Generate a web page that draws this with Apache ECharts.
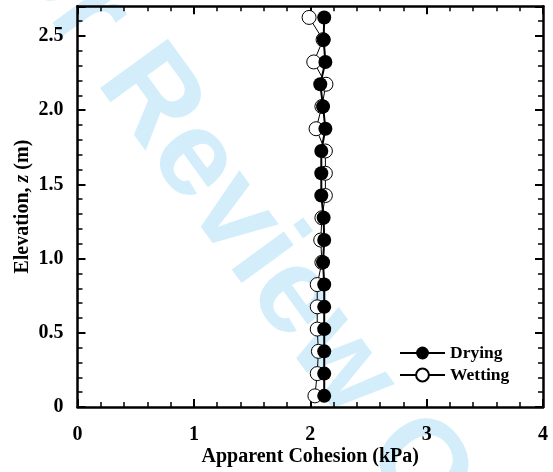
<!DOCTYPE html>
<html>
<head>
<meta charset="utf-8">
<script src="https://cdn.jsdelivr.net/npm/echarts@6/dist/echarts.min.js"></script>
<style>
  html, body { margin: 0; padding: 0; background: #fff; }
  #chart { width: 553px; height: 472px; }
</style>
</head>
<body>
<div id="chart"></div>
<script>
// Elevation of each measurement point (m)
const elevation = [0.075, 0.225, 0.375, 0.525, 0.675, 0.825, 0.975, 1.125, 1.275,
                   1.425, 1.575, 1.725, 1.875, 2.025, 2.175, 2.325, 2.475, 2.625];
// Apparent cohesion along the drying path (kPa)
const dryingCohesion = [2.12, 2.12, 2.12, 2.12, 2.12, 2.12, 2.11, 2.12, 2.115,
                        2.095, 2.095, 2.095, 2.13, 2.11, 2.086, 2.13, 2.115, 2.12];
// Apparent cohesion along the wetting path (kPa)
const wettingCohesion = [2.04, 2.06, 2.07, 2.06, 2.06, 2.06, 2.10, 2.09, 2.10,
                         2.13, 2.13, 2.13, 2.05, 2.10, 2.135, 2.03, 2.11, 1.99];
const xTicks = ['0', '1', '2', '3', '4'];
const seriesNames = ['Drying', 'Wetting'];

const serif = '"Liberation Serif", "Times New Roman", serif';

function pairs(xs) {
  return xs.map((x, i) => [x, elevation[i]]);
}

const tickCommon = {
  axisLine: { show: true, onZero: false, lineStyle: { color: '#000', width: 2.5 } },
  axisTick: { show: true, inside: true, length: 8, lineStyle: { color: '#000', width: 2 } },
  minorTick: { show: true, splitNumber: 5, length: 5, lineStyle: { color: '#000', width: 1.5 } },
  splitLine: { show: false },
  minorSplitLine: { show: false }
};

const chart = echarts.init(document.getElementById('chart'), null, { renderer: 'canvas' });

chart.setOption({
  animation: false,
  backgroundColor: '#fff',
  graphic: [{
    type: 'text',
    x: 268,
    y: 262,
    rotation: -54 * Math.PI / 180,
    z: -100,
    silent: true,
    style: {
      text: 'For Review Only',
      font: 'bold 122px "Liberation Sans", Arial, sans-serif',
      fill: '#d3eefa',
      align: 'center',
      verticalAlign: 'middle'
    }
  }],
  grid: { left: 77.5, right: 10, top: 6.3, bottom: 65, containLabel: false },
  legend: {
    data: seriesNames,
    orient: 'vertical',
    left: 399,
    top: 344,
    padding: 0,
    itemWidth: 45,
    itemHeight: 16,
    itemGap: 4,
    textStyle: { fontFamily: serif, fontWeight: 'bold', fontSize: 17.5, color: '#000' }
  },
  xAxis: [
    Object.assign({
      type: 'value', position: 'bottom', min: 0, max: 4, interval: 1,
      name: 'Apparent Cohesion (kPa)', nameLocation: 'middle', nameGap: 40,
      nameMoveOverlap: false,
      nameTextStyle: { fontFamily: serif, fontWeight: 'bold', fontSize: 20, color: '#000' },
      axisLabel: {
        margin: 18, fontFamily: serif, fontWeight: 'bold', fontSize: 20, color: '#000',
        formatter: v => xTicks[Math.round(v)]
      }
    }, tickCommon),
    Object.assign({
      type: 'value', position: 'top', min: 0, max: 4, interval: 1,
      axisLabel: { show: false }
    }, tickCommon)
  ],
  yAxis: [
    Object.assign({
      type: 'value', position: 'left', min: 0, max: 2.7, interval: 0.5,
      name: '{t|Elevation, }{i|z}{t| (m)}', nameLocation: 'middle', nameGap: 45,
      nameMoveOverlap: false,
      nameTextStyle: {
        rich: {
          t: { fontFamily: serif, fontWeight: 'bold', fontSize: 20, color: '#000' },
          i: { fontFamily: serif, fontWeight: 'bold', fontStyle: 'italic', fontSize: 20, color: '#000' }
        }
      },
      axisLabel: {
        margin: 14, fontFamily: serif, fontWeight: 'bold', fontSize: 20, color: '#000',
        showMaxLabel: false,
        formatter: v => (v === 0 ? '0' : v.toFixed(1))
      }
    }, tickCommon),
    Object.assign({
      type: 'value', position: 'right', min: 0, max: 2.7, interval: 0.5,
      axisLabel: { show: false }
    }, tickCommon)
  ],
  series: [
    {
      name: 'Wetting',
      type: 'line',
      data: pairs(wettingCohesion),
      symbol: 'circle',
      symbolSize: 14,
      lineStyle: { color: '#000', width: 1 },
      itemStyle: { color: '#fff', borderColor: '#000', borderWidth: 1 },
      z: 3
    },
    {
      name: 'Drying',
      type: 'line',
      data: pairs(dryingCohesion),
      symbol: 'circle',
      symbolSize: 14,
      lineStyle: { color: '#000', width: 2 },
      itemStyle: { color: '#000', borderColor: '#000', borderWidth: 0 },
      z: 4
    }
  ]
});
</script>
</body>
</html>
